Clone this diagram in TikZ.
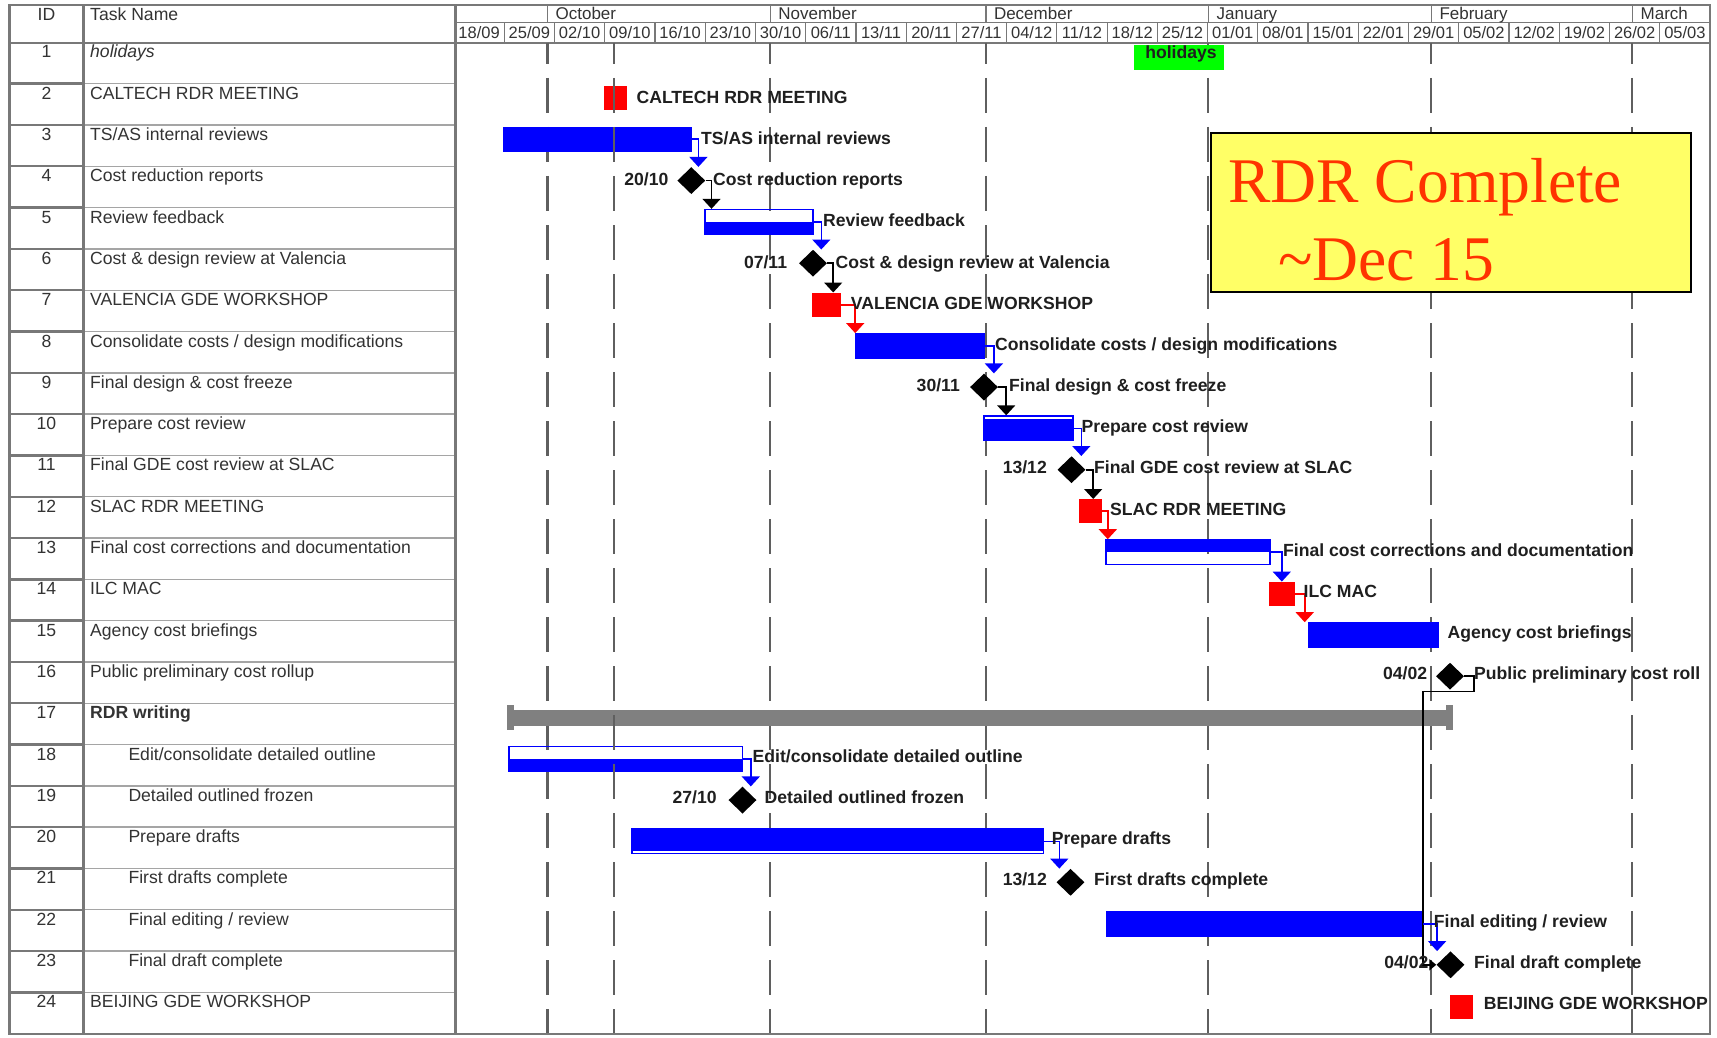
\documentclass[tikz,border=0pt]{standalone}
\usepackage{fontspec}
\setmainfont{Liberation Sans}
\newfontfamily\rdrserif{Liberation Serif}
\usetikzlibrary{shapes.geometric,arrows.meta,fit,calc}
\definecolor{barblue}{RGB}{0,0,255}
\definecolor{boxred}{RGB}{255,0,0}
\definecolor{holgreen}{RGB}{0,255,0}
\definecolor{gridgray}{RGB}{95,95,95}
\definecolor{tabgray}{RGB}{120,120,120}
\definecolor{tabgraylt}{RGB}{165,165,165}
\definecolor{sumgray}{RGB}{128,128,128}
\definecolor{noteyellow}{RGB}{255,255,102}
\definecolor{notered}{RGB}{255,51,0}
\begin{document}
\begin{tikzpicture}[x=1pt,y=-1pt,
  tabtxt/.style={font=\fontsize{17.6}{20}\selectfont, text=black!80, inner sep=0pt, anchor=base west},
  idtxt/.style={tabtxt, anchor=base},
  monthtxt/.style={font=\fontsize{17}{20}\selectfont, text=black!80, inner sep=0pt, anchor=base west},
  weektxt/.style={font=\fontsize{16.5}{20}\selectfont, text=black!80, inner sep=0pt, anchor=base},
  barlbl/.style={font=\fontsize{17.6}{20}\selectfont\bfseries, text=black!88, inner sep=0pt, anchor=base west},
  datelbl/.style={barlbl, anchor=base east},
  fullbar/.style={fill=barblue, draw=barblue, line width=0.8pt, inner sep=0pt},
  splitbar/.style={draw=barblue, line width=1.6pt, inner sep=0pt},
  meet/.style={fill=boxred, inner sep=0pt},
  milestone/.style={diamond, fill=black, inner sep=0pt, minimum width=28pt, minimum height=27pt},
  sumbar/.style={fill=sumgray, inner sep=0pt},
  lnk/.style={line width=1.6pt, -{Triangle[width=18pt,length=10pt]}},
  lnkblue/.style={lnk, draw=barblue},
  lnkred/.style={lnk, draw=boxred},
  lnkblack/.style={lnk, draw=black},
  gridln/.style={draw=gridgray, dash pattern=on 35pt off 14pt, dash phase=13.7pt},
]
\useasboundingbox (0,0) rectangle (1717,1038);
\fill[white] (0,0) rectangle (1717,1038);

% ---------- table grid ----------
\foreach \i in {1,...,23} {
  \pgfmathsetmacro\yl{42.4+\i*41.3}
  \draw[tabgray, line width=2.4pt] (9.5,\yl) -- (83.5,\yl);
  \draw[tabgraylt, line width=1.4pt] (83.5,\yl) -- (455,\yl);
}
\draw[tabgray, line width=2pt] (9.5,42.7) -- (1710,42.7);
\draw[tabgray, line width=1.4pt] (455,22.7) -- (1710,22.7);
\foreach \mx in {547.4,770.2,985.8,1208.5,1431.3,1632.5}
  \draw[tabgray, line width=1.4pt] (\mx,5) -- (\mx,22.7);
\foreach \k in {1,...,24}
  \draw[tabgray, line width=1.2pt] ({454+50.24*\k},22.7) -- ({454+50.24*\k},42.7);
\draw[tabgray, line width=2.6pt] (83.5,5) -- (83.5,1034);
\draw[tabgray, line width=3pt] (455,5) -- (455,1034);

% ---------- header texts ----------
\node[idtxt] (hid) at (46.5,20.7) {ID};
\node[tabtxt] (hname) at (90,20.7) {Task Name};
\node[monthtxt] (m10) at (555.4,19.5) {October};
\node[monthtxt] (m11) at (778.2,19.5) {November};
\node[monthtxt] (m12) at (993.8,19.5) {December};
\node[monthtxt] (m01) at (1216.5,19.5) {January};
\node[monthtxt] (m02) at (1439.3,19.5) {February};
\node[monthtxt] (m03) at (1640.5,19.5) {March};
\foreach \w [count=\k from 0] in {18/09,25/09,02/10,09/10,16/10,23/10,30/10,06/11,13/11,20/11,27/11,04/12,11/12,18/12,25/12,01/01,08/01,15/01,22/01,29/01,05/02,12/02,19/02,26/02,05/03} {
  \pgfmathsetmacro\xc{454+50.24*(\k+0.5)}
  \node[weektxt] (wk\k) at (\xc,38.8) {\w};
}

% ---------- table rows ----------
\foreach \i/\t in {1/{\itshape holidays},2/{CALTECH RDR MEETING},3/{TS/AS internal reviews},4/{Cost reduction reports},5/{Review feedback},6/{Cost \& design review at Valencia},7/{VALENCIA GDE WORKSHOP},8/{Consolidate costs / design modifications},9/{Final design \& cost freeze},10/{Prepare cost review},11/{Final GDE cost review at SLAC},12/{SLAC RDR MEETING},13/{Final cost corrections and documentation},14/{ILC MAC},15/{Agency cost briefings},16/{Public preliminary cost rollup},17/{\bfseries RDR writing},24/{BEIJING GDE WORKSHOP}} {
  \pgfmathsetmacro\yb{42.4+(\i-1)*41.3+15.5}
  \node[idtxt] (id\i) at (46.5,\yb) {\i};
  \node[tabtxt] (tn\i) at (90,\yb) {\t};
}
\foreach \i/\t in {18/{Edit/consolidate detailed outline},19/{Detailed outlined frozen},20/{Prepare drafts},21/{First drafts complete},22/{Final editing / review},23/{Final draft complete}} {
  \pgfmathsetmacro\yb{42.4+(\i-1)*41.3+15.5}
  \node[idtxt] (id\i) at (46.5,\yb) {\i};
  \node[tabtxt] (tn\i) at (128.3,\yb) {\t};
}

% ---------- timescale gridlines ----------
\foreach \gx/\gw in {547.4/2.2,770.2/1.6,985.8/1.6,1208/2.2,1431/2.2,1632/1.8}
  \draw[gridln, line width=\gw pt] (\gx,42.7) -- (\gx,1033.6);

% ---------- holidays ----------
\node[fit={(1133.5,45)(1224,70.5)}, inner sep=0pt, fill=holgreen] (hol) {};
\node[barlbl, anchor=base] (holtxt) at (1181,59) {holidays};

% ---------- bars, meetings, milestones ----------
\node[meet, fit={(603.8,86.2)(626.6,110.2)}] (r2) {};
\node[fullbar, fit={(503.5,127)(691,151.5)}] (b3) {};
\node[milestone] (d4) at (691.3,180.6) {};
\node[splitbar, fit={(705,209.6)(813,234.1)}] (b5) {};
\fill[barblue] (b5.west) rectangle (b5.south east);
\node[milestone] (d6) at (813,263.2) {};
\node[meet, fit={(812,292.7)(841,316.7)}] (r7) {};
\node[fullbar, fit={(855,333.5)(984.5,358)}] (b8) {};
\node[milestone] (d9) at (984,387.1) {};
\node[splitbar, fit={(984,416.1)(1073,440.6)}] (b10) {};
\fill[barblue] ($(b10.north west)+(0,3.5)$) rectangle (b10.south east);
\node[milestone] (d11) at (1071.5,469.7) {};
\node[meet, fit={(1078.5,499.2)(1101.6,523.2)}] (r12) {};
\node[splitbar, fit={(1106,540)(1270,564.5)}] (b13) {};
\fill[barblue] (b13.north west) rectangle (b13.east);
\node[meet, fit={(1269,581.8)(1295,605.8)}] (r14) {};
\node[fullbar, fit={(1308,622.6)(1438.5,647.1)}] (b15) {};
\node[milestone] (d16) at (1450,676.2) {};
\node[sumbar, fit={(509,710)(1453,726)}] (s17) {};
\node[sumbar, fit={(507,705)(514,730)}] (s17a) {};
\node[sumbar, fit={(1446,705)(1453,730)}] (s17b) {};
\node[splitbar, fit={(509,746.5)(742.5,771)}] (b18) {};
\fill[barblue] (b18.west) rectangle (b18.south east);
\node[milestone] (d19) at (742.5,800.1) {};
\node[splitbar, fit={(632,829.1)(1043.5,853.6)}] (b20) {};
\fill[barblue] (b20.north west) rectangle ($(b20.south east)+(0,-3.5)$);
\node[milestone] (d21) at (1070.5,882.3) {};
\node[fullbar, fit={(1106,911.7)(1422.7,936.2)}] (b22) {};
\node[milestone] (d23) at (1450.5,964.8) {};
\node[meet, fit={(1449.5,994.8)(1472.7,1018.8)}] (r24) {};

% ---------- links ----------
\draw[lnkblue] (b3.east) -- ++(7,0) coordinate (k3) -- (k3 |- d4.north);
\draw[lnkblack] (d4.east) -- ++(6,0) coordinate (k4) -- (k4 |- b5.north);
\draw[lnkblue] (b5.east) -- ++(7.5,0) coordinate (k5) -- (k5 |- d6.north);
\draw[lnkblack] (d6.east) -- ++(6,0) coordinate (k6) -- (k6 |- r7.north);
\draw[lnkred] (r7.east) -- ++(14,0) coordinate (k7) -- (k7 |- b8.north);
\draw[lnkblue] (b8.east) -- ++(9,0) coordinate (k8) -- (k8 |- d9.north);
\draw[lnkblack] (d9.east) -- ++(8,0) coordinate (k9) -- (k9 |- b10.north);
\draw[lnkblue] (b10.east) -- ++(7.5,0) coordinate (k10) -- (k10 |- d11.north);
\draw[lnkblack] (d11.east) -- ++(7.5,0) coordinate (k11) -- (k11 |- r12.north);
\draw[lnkred] (r12.east) -- ++(6,0) coordinate (k12) -- (k12 |- b13.north);
\draw[lnkblue] (b13.east) -- ++(11,0) coordinate (k13) -- (k13 |- r14.north);
\draw[lnkred] (r14.east) -- ++(9.5,0) coordinate (k14) -- (k14 |- b15.north);
\draw[draw=black, line width=1.6pt, -{Triangle[width=11pt,length=7pt]}] (d16.east) -- ++(10,0) -- ++(0,15.3) coordinate (k16) -- (k16 -| b22.east) coordinate (k16b) -- (k16b |- d23.west) -- (d23.west);
\draw[lnkblue] (b18.east) -- ++(7.5,0) coordinate (k18) -- (k18 |- d19.north);
\draw[lnkblue] (b20.east) -- ++(15,0) coordinate (k20) -- (k20 |- d21.north);
\draw[lnkblue] (b22.east) -- ++(14,0) coordinate (k22) -- (k22 |- d23.north);

% ---------- status line over the bars ----------
\draw[gridln, line width=2.2pt] (614,42.7) -- (614,1033.6);

% ---------- bar labels ----------
\node[barlbl] (l2) at (636.4,103.2) {CALTECH RDR MEETING};
\node[barlbl] (l3) at (701,144.4) {TS/AS internal reviews};
\node[datelbl] (t4) at (668.6,185.6) {20/10};
\node[barlbl] (l4) at (713,185.6) {Cost reduction reports};
\node[barlbl] (l5) at (823,226.8) {Review feedback};
\node[datelbl] (t6) at (787.3,268.0) {07/11};
\node[barlbl] (l6) at (835.5,268.0) {Cost \& design review at Valencia};
\node[barlbl] (l7) at (850.7,309.1) {VALENCIA GDE WORKSHOP};
\node[barlbl] (l8) at (995,350.3) {Consolidate costs / design modifications};
\node[datelbl] (t9) at (960,391.5) {30/11};
\node[barlbl] (l9) at (1009,391.5) {Final design \& cost freeze};
\node[barlbl] (l10) at (1081.5,432.7) {Prepare cost review};
\node[datelbl] (t11) at (1047,473.9) {13/12};
\node[barlbl] (l11) at (1094,473.9) {Final GDE cost review at SLAC};
\node[barlbl] (l12) at (1110,515.1) {SLAC RDR MEETING};
\node[barlbl] (l13) at (1283,556.3) {Final cost corrections and documentation};
\node[barlbl] (l14) at (1303.5,597.5) {ILC MAC};
\node[barlbl] (l15) at (1447.5,638.7) {Agency cost briefings};
\node[datelbl] (t16) at (1427.4,679.9) {04/02};
\node[barlbl] (l16) at (1474,679.9) {Public preliminary cost roll};
\node[barlbl] (l18) at (752.5,762.3) {Edit/consolidate detailed outline};
\node[datelbl] (t19) at (716.8,803.5) {27/10};
\node[barlbl] (l19) at (764.5,803.5) {Detailed outlined frozen};
\node[barlbl] (l20) at (1051.6,844.7) {Prepare drafts};
\node[datelbl] (t21) at (1047,885.8) {13/12};
\node[barlbl] (l21) at (1094,885.8) {First drafts complete};
\node[barlbl] (l22) at (1433.7,927.0) {Final editing / review};
\node[datelbl] (t23) at (1428.6,968.2) {04/02};
\node[barlbl] (l23) at (1474,968.2) {Final draft complete};
\node[barlbl] (l24) at (1483.7,1009.3) {BEIJING GDE WORKSHOP};

% ---------- note ----------
\node[fit={(1211,132.7)(1691,292)}, inner sep=0pt, draw=black, line width=2pt, fill=noteyellow] (note) {};
\node[anchor=base west, inner sep=0pt, text=notered, font=\rdrserif\fontsize{63.6}{70}\selectfont] (note1) at (1228,203) {RDR Complete};
\node[anchor=base west, inner sep=0pt, text=notered, font=\rdrserif\fontsize{63.6}{70}\selectfont] (note2) at (1278,280) {\textasciitilde Dec 15};

% ---------- outer frame ----------
\draw[tabgray, line width=2.6pt] (9.5,5) rectangle (1710,1034);
\end{tikzpicture}
\end{document}
